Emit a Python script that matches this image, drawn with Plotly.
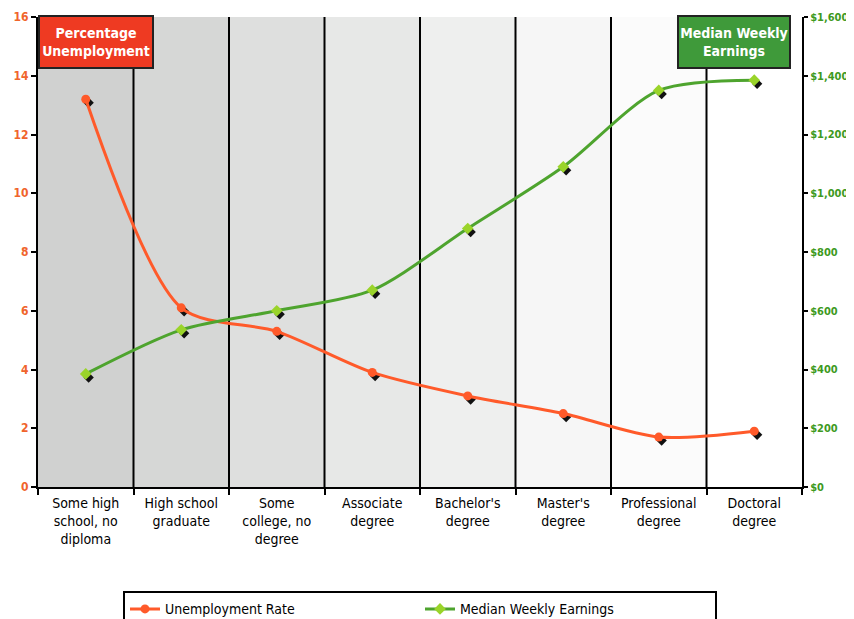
import plotly.graph_objects as go

categories = ["Some high<br>school, no<br>diploma", "High school<br>graduate", "Some<br>college, no<br>degree",
              "Associate<br>degree", "Bachelor's<br>degree", "Master's<br>degree", "Professional<br>degree", "Doctoral<br>degree"]
unemployment = [13.2, 6.1, 5.3, 3.9, 3.1, 2.5, 1.7, 1.9]
earnings = [385, 535, 600, 670, 880, 1090, 1350, 1385]
left_ticks = [0, 2, 4, 6, 8, 10, 12, 14, 16]
right_ticks = [0, 200, 400, 600, 800, 1000, 1200, 1400, 1600]
right_tick_labels = ["$0", "$200", "$400", "$600", "$800", "$1,000", "$1,200", "$1,400", "$1,600"]
column_shades = ["#d0d1d0", "#d6d7d6", "#dedfde", "#e7e8e7", "#eeefee", "#f6f6f6", "#fbfbfb", "#ffffff"]

xs = list(range(len(categories)))
FONT = "DejaVu Sans Condensed, Liberation Sans Narrow, Arial Narrow, sans-serif"
ORANGE = "#ff5a2a"
GREEN = "#4ea42e"
LIME = "#9ad42a"

fig = go.Figure()

# shadows
fig.add_trace(go.Scatter(x=[x + 0.03 for x in xs], y=[v - 0.12 for v in unemployment], mode="markers",
                         marker=dict(symbol="diamond", size=8, color="#111"), showlegend=False, hoverinfo="skip"))
fig.add_trace(go.Scatter(x=[x + 0.03 for x in xs], y=[v - 12 for v in earnings], mode="markers", yaxis="y2",
                         marker=dict(symbol="diamond", size=8, color="#111"), showlegend=False, hoverinfo="skip"))

fig.add_trace(go.Scatter(x=xs, y=unemployment, name="Unemployment Rate", mode="lines+markers",
                         line=dict(color=ORANGE, width=3, shape="spline", smoothing=0.8),
                         marker=dict(symbol="circle", size=9, color=ORANGE)))
fig.add_trace(go.Scatter(x=xs, y=earnings, name="Median Weekly Earnings", mode="lines+markers", yaxis="y2",
                         line=dict(color=GREEN, width=3, shape="spline", smoothing=0.8),
                         marker=dict(symbol="diamond", size=9, color=LIME)))

shapes = []
for i, c in enumerate(column_shades):
    shapes.append(dict(type="rect", xref="x", yref="paper", x0=i - 0.5, x1=i + 0.5, y0=0, y1=1,
                       fillcolor=c, line=dict(width=0), layer="below"))
for i in range(1, len(categories)):
    shapes.append(dict(type="line", xref="x", yref="paper", x0=i - 0.5, x1=i - 0.5, y0=0, y1=1,
                       line=dict(color="black", width=2), layer="below"))
fig.update_layout(shapes=shapes)

fig.update_layout(
    width=846, height=611,
    margin=dict(l=30, r=52, t=9, b=132, autoexpand=False),
    paper_bgcolor="white", plot_bgcolor="white",
    font=dict(family=FONT, size=14, color="black"),
    xaxis=dict(range=[-0.5, len(categories) - 0.5], tickmode="array", tickvals=[x - 0.5 for x in xs] + [len(xs) - 0.5],
               ticktext=[""] * (len(xs) + 1), ticks="outside", ticklen=6, tickcolor="black", tickwidth=2,
               showline=True, linecolor="black", linewidth=2, showgrid=False, zeroline=False, automargin=False),
    xaxis2=dict(overlaying="x", matches="x", range=[-0.5, len(categories) - 0.5], tickmode="array",
                tickvals=xs, ticktext=categories, ticks="", showline=False, showgrid=False, zeroline=False,
                side="bottom", automargin=False, ticklabelstandoff=6,
                tickfont=dict(family=FONT, size=14, color="black")),
    yaxis=dict(range=[0, 16], tickvals=left_ticks, ticks="outside", ticklen=5, tickcolor="black", tickwidth=2,
               showline=True, linecolor="black", linewidth=2, showgrid=False, zeroline=False, automargin=False,
               tickfont=dict(family=FONT, size=12, color="#f0642c", weight="bold")),
    yaxis2=dict(range=[0, 1600], tickvals=right_ticks, ticktext=right_tick_labels, overlaying="y", side="right",
                ticks="outside", ticklen=4, tickcolor="black", tickwidth=2, automargin=False,
                showline=True, linecolor="black", linewidth=2, showgrid=False, zeroline=False,
                tickfont=dict(family=FONT, size=11, color="#3e9a1e", weight="bold")),
    legend=dict(orientation="h", x=0.5, xanchor="center", y=-0.222, yanchor="top",
                bordercolor="black", borderwidth=2, bgcolor="white",
                font=dict(family=FONT, size=14, color="black"), entrywidth=250, traceorder="normal"),
    annotations=[
        dict(xref="paper", yref="paper", x=0, y=1.004, xanchor="left", yanchor="top",
             text="Percentage<br>Unemployment", showarrow=False, bgcolor="#ee3a22", bordercolor="#222",
             borderwidth=2, width=110, height=48, font=dict(family=FONT, size=14, color="white", weight="bold")),
        dict(xref="paper", yref="paper", x=0.985, y=1.004, xanchor="right", yanchor="top",
             text="Median Weekly<br>Earnings", showarrow=False, bgcolor="#3f9a3a", bordercolor="#222",
             borderwidth=2, width=108, height=48, font=dict(family=FONT, size=14, color="white", weight="bold")),
    ],
)
fig.add_trace(go.Scatter(x=xs, y=[None] * len(xs), xaxis="x2", showlegend=False, hoverinfo="skip"))

fig.write_html("out.html")
